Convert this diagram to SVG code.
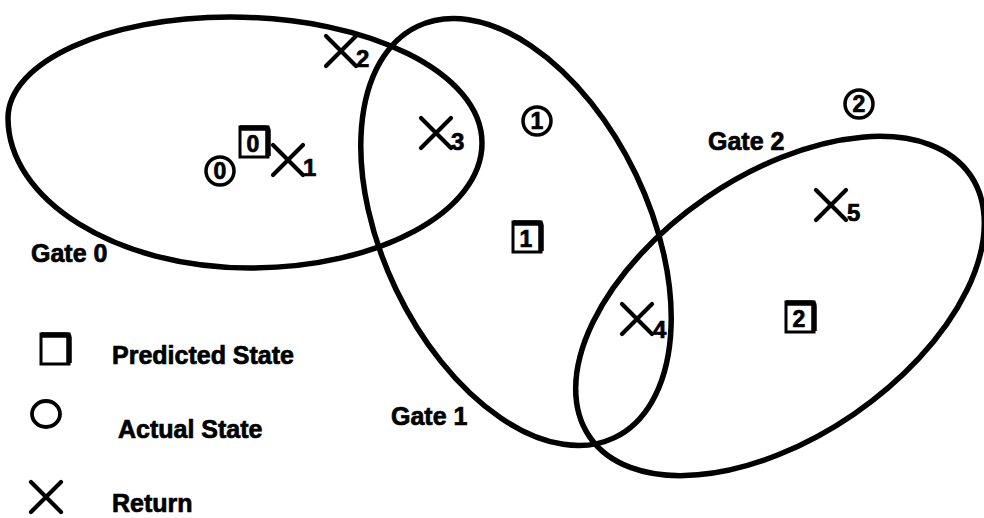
<svg xmlns="http://www.w3.org/2000/svg" width="984" height="518" viewBox="0 0 984 518">
  <style>
    .gate { fill: none; stroke: #000; stroke-width: 5.5; }
    .lbl { font-family: "Liberation Sans", Arial, sans-serif; font-weight: bold; font-size: 25px; fill: #000; stroke: #000; stroke-width: 0.7; }
    .num { font-family: "Liberation Sans", Arial, sans-serif; font-weight: bold; font-size: 23px; fill: #000; stroke: #000; stroke-width: 0.7; text-anchor: middle; }
    .sub { font-family: "Liberation Sans", Arial, sans-serif; font-weight: bold; font-size: 24px; fill: #000; stroke: #000; stroke-width: 0.7; }
    .x { stroke: #000; stroke-width: 4.2; stroke-linecap: round; fill: none; }
    .ring { fill: #fff; stroke: #000; stroke-width: 3.5; }
    .box { fill: #fff; stroke: #000; stroke-width: 3; }
    .boxedge { fill: none; stroke: #000; stroke-width: 5.5; stroke-linejoin: round; }
  </style>
  <defs>
    <path id="cross" class="x" d="M-15,-15 L15,15 M15,-15 L-15,15"/>
    <g id="boxmark">
      <rect class="box" x="-14" y="-14" width="28" height="30"/>
      <path class="boxedge" d="M-14,-13 L11,-13 Q14,-13 14,-10 L14,15"/>
    </g>
  </defs>

  <!-- gate outlines -->
  <g id="connectors">
    <path id="gate0-outline" class="gate" d="M8,118 C8,62 107,17 230,17 C369,17 482,73 482,143 C482,212 378,268 250,268 C116,268 8,200 8,118 Z"/>
    <ellipse id="gate1-outline" class="gate" cx="516" cy="232" rx="228" ry="133" transform="rotate(64.4 516 232)"/>
    <ellipse id="gate2-outline" class="gate" cx="780" cy="306" rx="231" ry="131" transform="rotate(-34.5 780 306)"/>
  </g>

  <g id="gate0-label"><text class="lbl" x="31" y="262">Gate 0</text></g>
  <g id="gate1-label"><text class="lbl" x="391" y="425">Gate 1</text></g>
  <g id="gate2-label"><text class="lbl" x="708" y="150">Gate 2</text></g>

  <!-- actual states -->
  <g id="actual0"><circle class="ring" cx="220" cy="171" r="14"/><text class="num" x="220" y="179">0</text></g>
  <g id="actual1"><circle class="ring" cx="537" cy="121" r="14"/><text class="num" x="537" y="129">1</text></g>
  <g id="actual2"><circle class="ring" cx="859" cy="104" r="14"/><text class="num" x="859" y="112">2</text></g>

  <!-- predicted states -->
  <g id="predicted0"><use href="#boxmark" x="254" y="141"/><text class="num" x="253" y="152">0</text></g>
  <g id="predicted1"><use href="#boxmark" x="527" y="236"/><text class="num" x="526" y="247">1</text></g>
  <g id="predicted2"><use href="#boxmark" x="800" y="316"/><text class="num" x="799" y="327">2</text></g>

  <!-- returns -->
  <g id="return1"><use href="#cross" x="288" y="160"/><text class="sub" x="303" y="176">1</text></g>
  <g id="return2"><use href="#cross" x="341" y="51"/><text class="sub" x="356" y="67">2</text></g>
  <g id="return3"><use href="#cross" x="436" y="133"/><text class="sub" x="451" y="150">3</text></g>
  <g id="return4"><use href="#cross" x="637" y="319"/><text class="sub" x="653" y="338">4</text></g>
  <g id="return5"><use href="#cross" x="831" y="205"/><text class="sub" x="847" y="221">5</text></g>

  <!-- legend -->
  <g id="legend-predicted"><use href="#boxmark" x="55" y="348"/><text class="lbl" x="112" y="364">Predicted State</text></g>
  <g id="legend-actual"><ellipse cx="46" cy="414" rx="14" ry="13" fill="none" stroke="#000" stroke-width="3.8"/><text class="lbl" x="118" y="438">Actual State</text></g>
  <g id="legend-return"><use href="#cross" x="46" y="497"/><text class="lbl" x="112" y="512">Return</text></g>
</svg>
